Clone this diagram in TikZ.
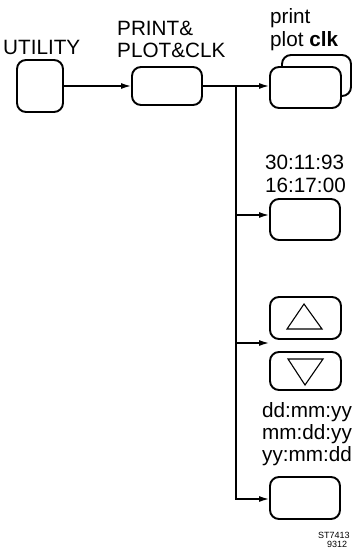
\documentclass[tikz,border=0pt]{standalone}
\usepackage{fontspec}
\setmainfont{Liberation Sans}
\usetikzlibrary{arrows.meta}
\begin{document}
\begin{tikzpicture}[x=1pt,y=-1pt,
  btn/.style={draw, line width=1.9pt, rounded corners=9pt, fill=white, inner sep=0pt},
  conn/.style={line width=1.4pt},
  arr/.style={conn, -{Latex[length=10pt,width=6pt]}},
  lbl/.style={font=\fontsize{20.7}{22}\selectfont, inner sep=0pt, anchor=base west},
  tiny/.style={font=\fontsize{9}{10}\selectfont, inner sep=0pt, anchor=base west},
  tri/.style={line width=1.1pt, line join=miter}]
\useasboundingbox (0,0) rectangle (352,556);
\clip (0,0) rectangle (352,556);
% labels
\node[lbl] (tUtil) at (3,55) {UTILITY};
\node[lbl] (tPrint) at (117,36) {PRINT\&};
\node[lbl] (tPlot) at (117,58) {PLOT\&CLK};
\node[lbl] (tP1) at (270,24) {print};
\node[lbl] (tP2) at (270,47) {plot \textbf{clk}};
\node[lbl] (tD1) at (265,169) {30:11:93};
\node[lbl] (tD2) at (265,192) {16:17:00};
\node[lbl] (tF1) at (262,417) {dd:mm:yy};
\node[lbl] (tF2) at (262,439) {mm:dd:yy};
\node[lbl] (tF3) at (262,461) {yy:mm:dd};
\node[tiny] (tST) at (318,538) {ST7413};
\node[tiny] (tNum) at (327,547) {9312};
% boxes
\node[btn, minimum width=46pt, minimum height=52pt] (util) at (40,86) {};
\node[btn, minimum width=70pt, minimum height=38pt] (ppc) at (167,86) {};
\node[btn, minimum width=69pt, minimum height=41pt] (pback) at (316.5,75.5) {};
\node[btn, minimum width=71pt, minimum height=41pt] (pfront) at (305.5,87.5) {};
\node[btn, minimum width=70pt, minimum height=41pt] (date) at (305,219.5) {};
\node[btn, minimum width=71pt, minimum height=42pt] (up) at (305.5,318) {};
\node[btn, minimum width=71pt, minimum height=38pt] (down) at (305.5,371) {};
\node[btn, minimum width=70pt, minimum height=42pt] (fmt) at (305,498) {};
% triangles
\draw[tri] (304,304) -- (322,329) -- (287,329) -- cycle;
\draw[tri] (288,359) -- (323,359) -- (305,385) -- cycle;
% connectors
\draw[arr] (util.east) -- (ppc.west);
\coordinate (j1) at (236,86);
\coordinate (j2) at (236,215);
\coordinate (j3) at (236,343);
\coordinate (j4) at (236,499);
\draw[conn] (ppc.east) -- (j1);
\draw[arr] (j1) -- (j1 -| pfront.west);
\draw[conn, line join=miter] (j1) -- (j4);
\draw[arr] ([xshift=-0.7pt]j4) -- (j4 -| fmt.west);
\draw[arr] (j2) -- (j2 -| date.west);
\draw[arr] (j3) -- (j3 -| up.west);
\end{tikzpicture}
\end{document}
